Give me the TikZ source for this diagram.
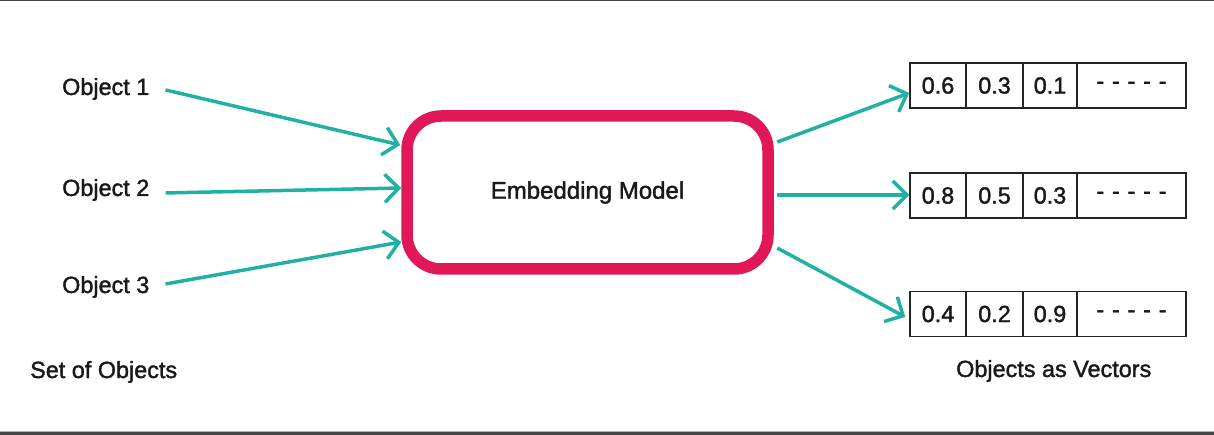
\documentclass[tikz,border=0pt]{standalone}
\usepackage{fontspec}
\setmainfont{Liberation Sans}[FakeBold=1.6]
\usetikzlibrary{arrows.meta,calc}
\definecolor{tealc}{RGB}{32,176,164}
\definecolor{crim}{RGB}{224,24,88}
\definecolor{edgegray}{RGB}{70,70,70}
\tikzset{
  lbl/.style={anchor=base west, inner sep=0pt, text=black!90, font=\fontsize{23.4}{27}\selectfont},
  model/.style={draw=crim, line width=11.5pt, rounded corners=34pt, minimum width=361pt, minimum height=153pt, text=black!90, font=\fontsize{24}{28}\selectfont},
  flow/.style={draw=tealc, line width=3.5pt, -{Straight Barb[length=14pt, width=28pt, line width=3.5pt]}},
  cell/.style={draw=black!85, line width=1.5pt, minimum height=45pt, inner sep=0pt, text=black!90, font=\fontsize{23.4}{27}\selectfont}
}
\begin{document}
\begin{tikzpicture}[x=1pt,y=-1pt]
\useasboundingbox (0,0) rectangle (1214,435);
\fill[edgegray] (0,0) rectangle (1214,1.5);
\fill[edgegray] (0,431.5) rectangle (1214,435);
\fill[gray!60] (0,430.5) rectangle (1214,431.5);
% labels
\node[lbl] (o1) at (62,95) {Object 1};
\node[lbl] (o2) at (62,196) {Object 2};
\node[lbl] (o3) at (62,293) {Object 3};
\node[lbl] (setl) at (30,378) {Set of Objects};
\node[lbl] (vecl) at (956,377) {Objects as Vectors};
% model
\node[model] (em) at (587.5,192.5) {Embedding Model};
% vectors
\foreach \r/\y/\a/\b/\c in {1/85.5/0.6/0.3/0.1, 2/195.5/0.8/0.5/0.3, 3/314/0.4/0.2/0.9}{
  \node[cell, minimum width=56pt] (v\r a) at (938,\y) {\a};
  \node[cell, minimum width=57pt] (v\r b) at (994.5,\y) {\b};
  \node[cell, minimum width=54pt] (v\r c) at (1050,\y) {\c};
  \node[cell, minimum width=109pt] (v\r d) at (1131.5,\y) {-\,\,-\,\,-\,\,-\,\,-};
}
% input arrows
\draw[flow] ($(o1.east)+(16,1)$) -- ($(em.west)+(-1,-47.5)$);
\draw[flow] ($(o2.east)+(16,3)$) -- ($(em.west)+(0,-4.5)$);
\draw[flow] ($(o3.east)+(16,-3)$) -- ($(em.west)+(0,49.5)$);
% output arrows
\draw[flow] ($(em.east)+(3.5,-50.5)$) -- ($(v1a.west)+(0,7.5)$);
\draw[flow] ($(em.east)+(3.5,2.5)$) -- ($(v2a.west)+(0,-0.5)$);
\draw[flow] ($(em.east)+(3.5,55.5)$) -- ($(v3a.west)+(-4,3)$);
\end{tikzpicture}
\end{document}
